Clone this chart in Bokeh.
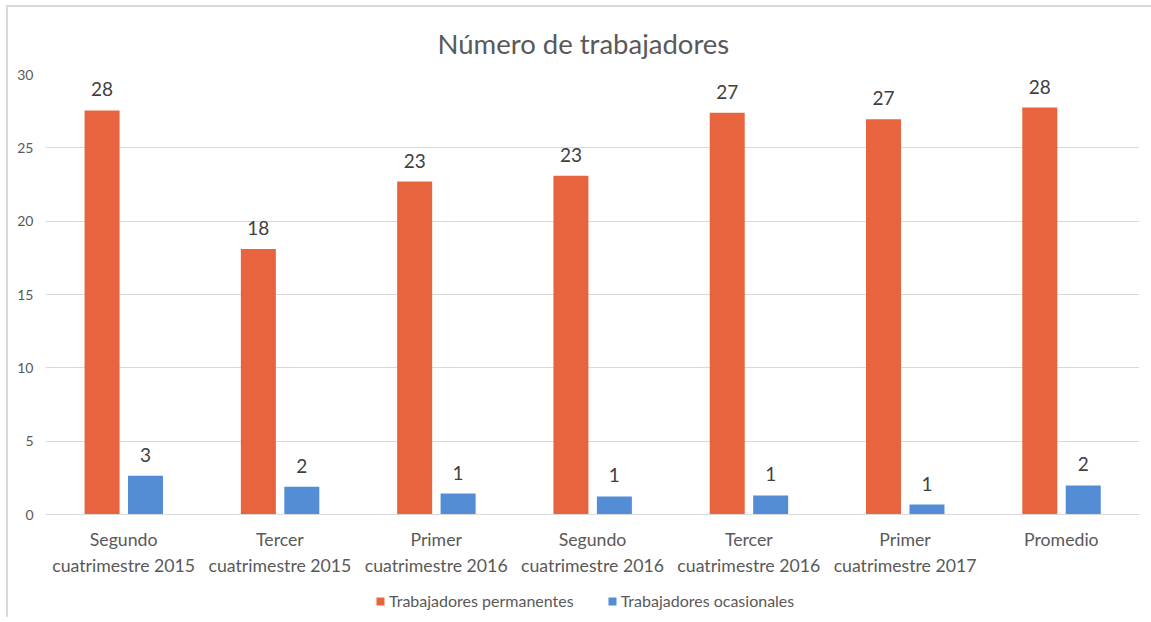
from bokeh.plotting import figure
from bokeh.models import ColumnDataSource, FactorRange, LabelSet, Legend, LegendItem, FixedTicker
from bokeh.layouts import column
from bokeh.transform import dodge
from bokeh.core.properties import value
from bokeh.embed import file_html
from bokeh.resources import INLINE

categories = ["Segundo\ncuatrimestre 2015", "Tercer\ncuatrimestre 2015", "Primer\ncuatrimestre 2016",
              "Segundo\ncuatrimestre 2016", "Tercer\ncuatrimestre 2016", "Primer\ncuatrimestre 2017", "Promedio"]
permanentes = [27.55, 18.1, 22.7, 23.1, 27.4, 26.95, 27.75]
ocasionales = [2.65, 1.9, 1.43, 1.23, 1.3, 0.68, 1.98]
y_ticks = [0, 5, 10, 15, 20, 25, 30]
series_names = ["Trabajadores permanentes", "Trabajadores ocasionales"]

FONT = "Lato"
ORANGE = "#E8643F"
BLUE = "#538DD5"

src = ColumnDataSource(dict(
    cat=categories,
    perm=permanentes,
    ocas=ocasionales,
    perm_lbl=[str(int(round(v))) for v in permanentes],
    ocas_lbl=[str(int(round(v))) for v in ocasionales],
))

W, H = 1143, 580
p = figure(x_range=FactorRange(*categories), y_range=(0, 30), width=W, height=H,
           output_backend="svg", toolbar_location=None,
           min_border_left=37, min_border_right=W - 1131, min_border_top=67, min_border_bottom=H - 507)

p.title.text = "Número de trabajadores"
p.title.align = "left"
p.title.text_font = FONT
p.title.text_font_size = "27.5px"
p.title.text_font_style = "normal"
p.title.text_color = "#595959"
p.title.offset = 392
p.title.standoff = 30

r1 = p.vbar(x=dodge("cat", -0.138, range=p.x_range), top="perm", width=0.224, source=src,
            fill_color=ORANGE, line_color=None)
r2 = p.vbar(x=dodge("cat", 0.14, range=p.x_range), top="ocas", width=0.224, source=src,
            fill_color=BLUE, line_color=None)

for col, off in (("perm", -0.138), ("ocas", 0.14)):
    ls = LabelSet(x=dodge("cat", off, range=p.x_range), y=col, text=col + "_lbl", source=src,
                  text_align="center", text_baseline="middle", y_offset=21,
                  text_font=value(FONT), text_font_size="19px", text_color="#404040")
    p.add_layout(ls)

p.xgrid.grid_line_color = None
p.ygrid.grid_line_color = "#D9D9D9"
p.ygrid.ticker = FixedTicker(ticks=y_ticks)
p.yaxis.ticker = FixedTicker(ticks=y_ticks)
p.yaxis.axis_line_color = None
p.yaxis.major_tick_line_color = None
p.yaxis.minor_tick_line_color = None
p.yaxis.major_label_text_font = FONT
p.yaxis.major_label_text_font_size = "14px"
p.yaxis.major_label_text_color = "#595959"
p.yaxis.major_label_standoff = 6

p.xaxis.axis_line_color = "#D9D9D9"
p.xaxis.major_tick_line_color = None
p.xaxis.minor_tick_line_color = None
p.xaxis.major_label_text_font = FONT
p.xaxis.major_label_text_font_size = "17.7px"
p.xaxis.major_label_text_color = "#595959"
p.xaxis.major_label_text_line_height = 1.25
p.xaxis.major_label_standoff = 8
p.x_range.range_padding = 0
p.x_range.group_padding = 0
p.outline_line_color = None
p.border_fill_color = "white"
p.background_fill_color = "white"

# legend strip (separate small figure so the legend is not clipped)
lf = figure(x_range=p.x_range, y_range=(0, 30), width=W, height=30,
            output_backend="svg", toolbar_location=None,
            min_border_left=0, min_border_right=0, min_border_top=0, min_border_bottom=0)
lf.axis.visible = False
lf.grid.visible = False
lf.outline_line_color = None
l1 = lf.vbar(x="cat", top="perm", width=0.224, source=src, fill_color=ORANGE, line_color=None, visible=False)
l2 = lf.vbar(x="cat", top="ocas", width=0.224, source=src, fill_color=BLUE, line_color=None, visible=False)
legend = Legend(items=[LegendItem(label=series_names[0], renderers=[l1]),
                       LegendItem(label=series_names[1], renderers=[l2])],
                orientation="horizontal", location=(330, 7),
                label_text_font=FONT, label_text_font_size="16px", label_text_color="#595959",
                glyph_width=10, glyph_height=10, spacing=33, label_standoff=4,
                inactive_fill_alpha=0,
                border_line_color=None, background_fill_alpha=0, margin=0, padding=2)
lf.add_layout(legend)

layout = column(p, lf, spacing=0,
                styles={"margin-left": "6px", "margin-top": "5px",
                        "border-left": "2px solid #D9D9D9", "border-top": "2px solid #D9D9D9"})

open("out.html", "w").write(file_html(layout, INLINE))
